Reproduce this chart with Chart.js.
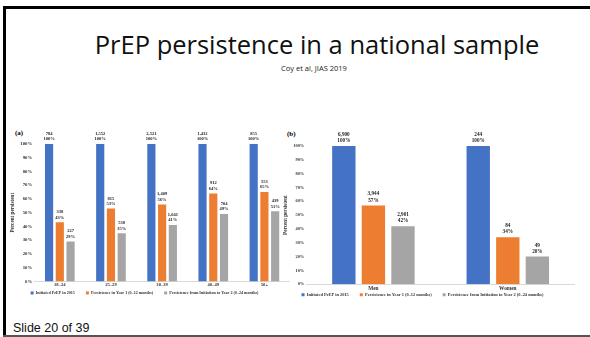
<!DOCTYPE html>
<html>
<head>
<meta charset="utf-8">
<script src="https://cdn.jsdelivr.net/npm/chart.js@4/dist/chart.umd.min.js"></script>
<style>
  body { margin: 0; width: 590px; height: 337px; background: #fff; position: relative; overflow: hidden; font-family: "Open Sans", sans-serif; }
  #frameTop { position: absolute; left: 3px; top: 6px; width: 587px; height: 3px; background: #000; }
  #frameLeft { position: absolute; left: 3px; top: 6px; width: 3px; height: 331px; background: #000; }
  #frameBottom { position: absolute; left: 3px; top: 335px; width: 587px; height: 2px; background: #555; }
  #title { position: absolute; left: 0; width: 634px; top: 27px; text-align: center; font-size: 25.5px; color: #111; white-space: nowrap; }
  #sub { position: absolute; left: 0; width: 628px; top: 63px; text-align: center; font-size: 7.5px; color: #222; }
  #slide { position: absolute; left: 13px; top: 321px; font-family: "Liberation Sans", Arial, sans-serif; font-size: 12.5px; color: #111; }
  .tag { position: absolute; font-family: "Liberation Serif", serif; font-weight: bold; font-size: 7px; }
  canvas { position: absolute; }
</style>
</head>
<body>
<div id="frameTop"></div>
<div id="frameLeft"></div>
<div id="frameBottom"></div>
<div id="title">PrEP persistence in a national sample</div>
<div id="sub">Coy et al, JIAS 2019</div>
<div id="slide">Slide 20 of 39</div>
<div class="tag" style="left:15px;top:129px">(a)</div>
<div class="tag" style="left:287px;top:130px">(b)</div>
<div style="position:absolute;left:8px;top:128px;width:282px;height:177px"><canvas id="chartA"></canvas></div>
<div style="position:absolute;left:281px;top:128px;width:294px;height:179px"><canvas id="chartB"></canvas></div>
<script>
// age groups (a)
var ageGroups = ["18\u201324", "25\u201329", "30\u201339", "40\u201349", "50+"];
var ageInitiatedPct = [100, 100, 100, 100, 100];
var ageYear1Pct = [43, 53, 56, 64, 65];
var ageYear2Pct = [29, 35, 41, 49, 51];
var ageInitiatedN = ["784", "1,552", "2,521", "1,432", "855"];
var ageYear1N = ["338", "815", "1,409", "912", "553"];
var ageYear2N = ["227", "538", "1,041", "704", "439"];

// gender (b)
var genders = ["Men", "Women"];
var genInitiatedPct = [100, 100];
var genYear1Pct = [57, 34];
var genYear2Pct = [42, 20];
var genInitiatedN = ["6,900", "244"];
var genYear1N = ["3,944", "84"];
var genYear2N = ["2,901", "49"];

var seriesNames = ["Initiated PrEP in 2015", "Persistence in Year 1 (0\u201312 months)", "Persistence from Initiation to Year 2 (0\u201324 months)"];
var colors = ["#4472C4", "#ED7D31", "#A5A5A5"];
var serif = "'Liberation Serif', 'Times New Roman', serif";

// draws "count / pct%" above each bar
var barLabels = {
  id: 'barLabels',
  afterDatasetsDraw: function(chart) {
    var size = chart.options.plugins.barLabels.size;
    var ctx = chart.ctx;
    ctx.save();
    ctx.font = 'bold ' + size + 'px ' + serif;
    ctx.fillStyle = '#222';
    ctx.textAlign = 'center';
    ctx.textBaseline = 'bottom';
    chart.data.datasets.forEach(function(ds, i) {
      chart.getDatasetMeta(i).data.forEach(function(bar, j) {
        ctx.fillText(ds.counts[j], bar.x, bar.y - 3 - size * 1.1);
        ctx.fillText(ds.data[j] + '%', bar.x, bar.y - 2.5);
      });
    });
    ctx.restore();
  }
};

function makeChart(id, labels, pcts, counts, o) {
  return new Chart(document.getElementById(id), {
    type: 'bar',
    data: {
      labels: labels,
      datasets: pcts.map(function(p, i) {
        return {
          label: seriesNames[i],
          data: p,
          counts: counts[i],
          backgroundColor: colors[i],
          categoryPercentage: o.catPct,
          barPercentage: o.barPct
        };
      })
    },
    options: {
      responsive: true,
      maintainAspectRatio: false,
      animation: false,
      layout: { padding: { top: o.padTop, left: 0, right: 0, bottom: 0 } },
      plugins: {
        barLabels: { size: o.labelSize },
        legend: {
          position: 'bottom',
          labels: {
            boxWidth: 3, boxHeight: 3, padding: o.legendPad,
            color: '#333',
            font: { family: serif, size: o.legendSize, weight: 'bold' },
            generateLabels: function(chart) {
              // extra trailing space widens the gap between items
              return Chart.defaults.plugins.legend.labels.generateLabels(chart).map(function(l) {
                l.text = l.text + o.legendGap;
                return l;
              });
            }
          }
        },
        tooltip: { enabled: false }
      },
      scales: {
        x: {
          grid: { display: false, drawTicks: false },
          border: { color: '#d9d9d9' },
          ticks: { color: '#333', padding: o.xPad, font: { family: serif, size: o.xSize, weight: 'bold' } }
        },
        y: {
          min: 0, max: 100,
          grid: { display: false, drawTicks: false },
          border: { display: false },
          ticks: {
            stepSize: 10, padding: 2, color: '#333',
            font: { family: serif, size: o.ySize, weight: 'bold' },
            callback: function(v) { return v + '%'; }
          },
          title: {
            display: true, text: 'Percent persistent', color: '#333', padding: 2,
            font: { family: serif, size: 5.2, weight: 'bold' }
          }
        }
      }
    },
    plugins: [barLabels]
  });
}

makeChart('chartA', ageGroups,
  [ageInitiatedPct, ageYear1Pct, ageYear2Pct],
  [ageInitiatedN, ageYear1N, ageYear2N],
  { catPct: 0.63, barPct: 0.76, padTop: 16, labelSize: 4.5, legendSize: 4.1, legendPad: 2,
    legendGap: '\u2003\u2003\u2009', xSize: 4.6, xPad: 1, ySize: 4.8 });
makeChart('chartB', genders,
  [genInitiatedPct, genYear1Pct, genYear2Pct],
  [genInitiatedN, genYear1N, genYear2N],
  { catPct: 0.66, barPct: 0.79, padTop: 18, labelSize: 5.2, legendSize: 4.4, legendPad: 0,
    legendGap: '\u2003\u2003\u2002', xSize: 5.3, xPad: 1, ySize: 4.4 });
</script>
</body>
</html>
